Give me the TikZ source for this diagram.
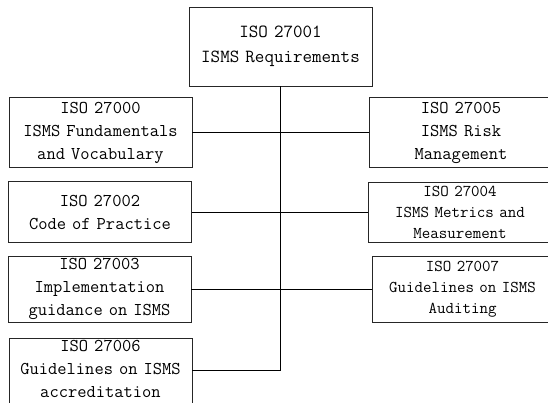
\documentclass[tikz,border=0pt]{standalone}
\usepackage{tikz}
\usetikzlibrary{shapes,arrows}
\tikzstyle{block} = [rectangle, draw=black!85, line width=0.9bp,
    text width=177bp, text centered, inner sep=0pt, minimum width=183bp,
    font=\ttfamily\fontsize{18bp}{23bp}\selectfont]
\tikzstyle{smalltext} = [font=\ttfamily\fontsize{16.5bp}{21bp}\selectfont]
\tikzstyle{line} = [draw, line width=0.8bp]
\tikzstyle{trunk} = [draw, line width=1.5bp]

\begin{document}
\begin{tikzpicture}[x=1bp,y=-1bp]
    \useasboundingbox (0,0) rectangle (548,402);
    % Place nodes
    \node [block, minimum height=79bp, font=\ttfamily\fontsize{18.5bp}{25bp}\selectfont] (iso1) at (280.5,46.5) {ISO 27001\\ISMS Requirements};
    % left column
    \node [block, minimum height=70bp] (iso0) at (100.5,132.5) {ISO 27000\\ISMS Fundamentals\\and Vocabulary};
    \node [block, minimum height=61bp] (iso2) at (100,212) {ISO 27002\\Code of Practice};
    \node [block, minimum height=66bp] (iso3) at (99.5,289) {ISO 27003\\Implementation\\guidance on ISMS};
    \node [block, minimum height=70bp] (iso6) at (100.5,373) {ISO 27006\\Guidelines on ISMS\\accreditation\\[-14bp]\mbox{}};
    % right column
    \node [block, minimum width=184bp, minimum height=70bp] (iso5) at (461,132.5) {ISO 27005\\ISMS Risk\\Management};
    \node [block, smalltext, minimum width=184bp, minimum height=60bp] (iso4) at (460,212) {ISO 27004\\ISMS Metrics and\\Measurement};
    \node [block, smalltext, minimum width=181bp, minimum height=66bp] (iso7) at (462.5,289) {ISO 27007\\Guidelines on ISMS\\Auditing};
    \coordinate (tend) at (iso1 |- 0,370);
    % Draw edges
    \path [trunk] (iso1) -- (tend);
    \path [line] (iso0) -- (iso5);
    \path [line] (iso2) -- (iso4);
    \path [line] (iso3) -- (iso7);
    \path [line] (iso6.east |- tend) -- (tend);
\end{tikzpicture}
\end{document}
